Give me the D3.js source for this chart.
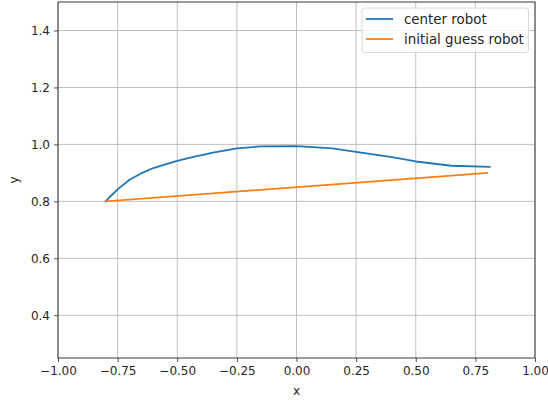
<!DOCTYPE html>
<html><head><meta charset="utf-8">
<script src="https://cdn.jsdelivr.net/npm/d3@7"></script>
<style>body{margin:0;background:#fff}svg{display:block}text{font-family:"DejaVu Sans",sans-serif;fill:#262626}</style>
</head><body><svg id="c" width="548" height="400"></svg>
<script>
const centerX = [-0.8,-0.78,-0.75,-0.7,-0.65,-0.6,-0.55,-0.5,-0.45,-0.35,-0.25,-0.15,0.0,0.15,0.25,0.4,0.5,0.65,0.81];
const centerY = [0.800,0.818,0.842,0.876,0.899,0.917,0.930,0.942,0.953,0.971,0.986,0.993,0.994,0.986,0.974,0.955,0.940,0.925,0.921];
const guessX = [-0.8,0.8];
const guessY = [0.800,0.900];
const xTicks = [-1.0,-0.75,-0.5,-0.25,0.0,0.25,0.5,0.75,1.0];
const yTicks = [0.4,0.6,0.8,1.0,1.2,1.4];
const seriesNames = ["center robot","initial guess robot"];
const colors = ["#1f77b4","#ff7f0e"];

const svg = d3.select("#c");
const L=58,R=535,T=2,B=358;
const x = d3.scaleLinear().domain([-1,1]).range([L,R]);
const y = d3.scaleLinear().domain([0.25,1.5]).range([B,T]);
const fs = 12;
const lfs = 13.4;

// grid
const g = svg.append("g");
g.selectAll("line.vx").data(xTicks).join("line").attr("x1",d=>x(d)).attr("x2",d=>x(d)).attr("y1",T).attr("y2",B).attr("stroke","#b0b0b0").attr("stroke-width",0.8);
g.selectAll("line.hy").data(yTicks).join("line").attr("y1",d=>y(d)).attr("y2",d=>y(d)).attr("x1",L).attr("x2",R).attr("stroke","#b0b0b0").attr("stroke-width",0.8);

// lines
const line = d3.line().x(d=>x(d[0])).y(d=>y(d[1]));
const series = [d3.zip(centerX,centerY), d3.zip(guessX,guessY)];
series.forEach((s,i)=>{
  svg.append("path").datum(s).attr("d",line).attr("fill","none").attr("stroke",colors[i]).attr("stroke-width",1.8).attr("stroke-linejoin","round").attr("stroke-linecap","square");
});

// axes
const xa = svg.append("g").attr("transform",`translate(0,${B})`).call(d3.axisBottom(x).tickValues(xTicks).tickFormat(d=>d3.format(".2f")(d).replace("-","−")).tickSize(4).tickPadding(4));
const ya = svg.append("g").attr("transform",`translate(${L},0)`).call(d3.axisLeft(y).tickValues(yTicks).tickFormat(d3.format(".1f")).tickSize(4).tickPadding(4));
[xa,ya].forEach(a=>{a.attr("font-size",fs).attr("font-family","DejaVu Sans");a.select(".domain").remove();a.selectAll("text").attr("font-size",fs).attr("fill","#262626");a.selectAll("line").attr("stroke","#262626").attr("stroke-width",0.8);});

// frame
svg.append("rect").attr("x",L).attr("y",T).attr("width",R-L).attr("height",B-T).attr("fill","none").attr("stroke","#262626").attr("stroke-width",0.9);

// labels
svg.append("text").attr("x",(L+R)/2).attr("y",395).attr("text-anchor","middle").attr("font-size",fs).text("x");
svg.append("text").attr("transform",`translate(18,${(T+B)/2}) rotate(-90)`).attr("text-anchor","middle").attr("font-size",fs).text("y");

// legend
const lg = svg.append("g");
lg.append("rect").attr("x",362).attr("y",8).attr("width",166.5).attr("height",44.5).attr("rx",3).attr("fill","#fff").attr("fill-opacity",0.8).attr("stroke","#d6d6d6").attr("stroke-width",0.9);
seriesNames.forEach((n,i)=>{
  const yy = 19 + i*20;
  lg.append("line").attr("x1",366).attr("x2",393).attr("y1",yy).attr("y2",yy).attr("stroke",colors[i]).attr("stroke-width",1.8);
  lg.append("text").attr("x",404).attr("y",yy+4.5).attr("font-size",lfs).text(n);
});
</script></body></html>
